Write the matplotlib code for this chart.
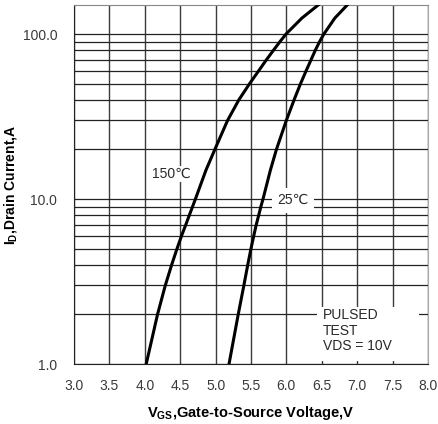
import matplotlib.pyplot as plt
from matplotlib.patches import Rectangle
from matplotlib.ticker import FixedLocator, NullFormatter

plt.rcParams['font.family'] = ['Liberation Sans', 'DejaVu Sans']
plt.rcParams['mathtext.fontset'] = 'custom'
plt.rcParams['mathtext.rm'] = 'Liberation Sans'
plt.rcParams['mathtext.bf'] = 'Liberation Sans:bold'

# transfer characteristics
id_amp = [1, 2, 3, 4, 5, 6, 7, 8, 9, 10, 15, 20, 30, 40, 50, 60, 70, 80, 90, 100, 125, 150]
vgs_150 = [4.02, 4.18, 4.29, 4.38, 4.455, 4.52, 4.58, 4.63, 4.675, 4.715, 4.865, 4.99,
           5.17, 5.33, 5.48, 5.61, 5.72, 5.82, 5.91, 5.995, 6.22, 6.45]
vgs_25 = [5.19, 5.32, 5.40, 5.455, 5.50, 5.54, 5.575, 5.61, 5.64, 5.67, 5.775, 5.86,
          6.00, 6.11, 6.20, 6.28, 6.35, 6.41, 6.47, 6.53, 6.685, 6.86]

x_ticks = [3.0, 3.5, 4.0, 4.5, 5.0, 5.5, 6.0, 6.5, 7.0, 7.5, 8.0]
y_ticks = [1.0, 10.0, 100.0]
y_minor = [2, 3, 4, 5, 6, 7, 8, 9, 20, 30, 40, 50, 60, 70, 80, 90]

fig = plt.figure(figsize=(4.38, 4.24), dpi=100)
ax = fig.add_axes([0.169, 0.1415, 0.808, 0.8467])

ax.set_yscale('log')
ax.set_xlim(3.0, 8.0)
ax.set_ylim(1.0, 150.0)

ax.xaxis.set_major_locator(FixedLocator(x_ticks))
ax.set_xticklabels([f"{v:.1f}" for v in x_ticks])
ax.yaxis.set_major_locator(FixedLocator(y_ticks))
ax.set_yticklabels([f"{v:.1f}" for v in y_ticks])
ax.yaxis.set_minor_locator(FixedLocator(y_minor))
ax.yaxis.set_minor_formatter(NullFormatter())

ax.tick_params(which='both', length=0, labelsize=10, colors='#3a3a3a')
ax.tick_params(axis='x', pad=11)
ax.tick_params(axis='y', pad=12)
ax.grid(True, which='major', axis='x', color='#3c3c3c', linewidth=1.0)
ax.grid(True, which='both', axis='y', color='#222222', linewidth=0.9)

ax.spines['left'].set_color('#222222')
ax.spines['bottom'].set_color('#222222')
ax.spines['top'].set_color('#888888')
ax.spines['right'].set_color('#aaaaaa')

ax.plot(vgs_150, id_amp, color='black', linewidth=2.2, zorder=3)
ax.plot(vgs_25, id_amp, color='black', linewidth=2.2, zorder=3)

ax.text(4.37, 14.2, '150℃', fontsize=10, color='#2a2a2a', ha='center', va='center',
        bbox=dict(facecolor='white', edgecolor='none', pad=1.0), zorder=4)
ax.text(6.09, 9.85, '25℃', fontsize=10, color='#2a2a2a', ha='center', va='center',
        bbox=dict(facecolor='white', edgecolor='none', pad=4.0), zorder=4)

# white panel behind the test-condition note
ax.add_patch(Rectangle((0.686, 0.008), 0.289, 0.151, transform=ax.transAxes,
                       facecolor='white', edgecolor='none', zorder=2.5))
ax.text(0.703, 0.03, 'PULSED\nTEST\nVDS = 10V', transform=ax.transAxes, fontsize=10,
        color='#2a2a2a', ha='left', va='bottom', linespacing=1.15, zorder=4)

ax.set_xlabel(r'V$_{\mathbf{GS}}$,Gate-to-Source Voltage,V', fontsize=10.5,
              fontweight='bold', labelpad=8)
ax.set_ylabel(r'I$_{\mathbf{D}}$,Drain Current,A', fontsize=10,
              fontweight='bold', labelpad=3)

fig.savefig('out.png', dpi=100)
